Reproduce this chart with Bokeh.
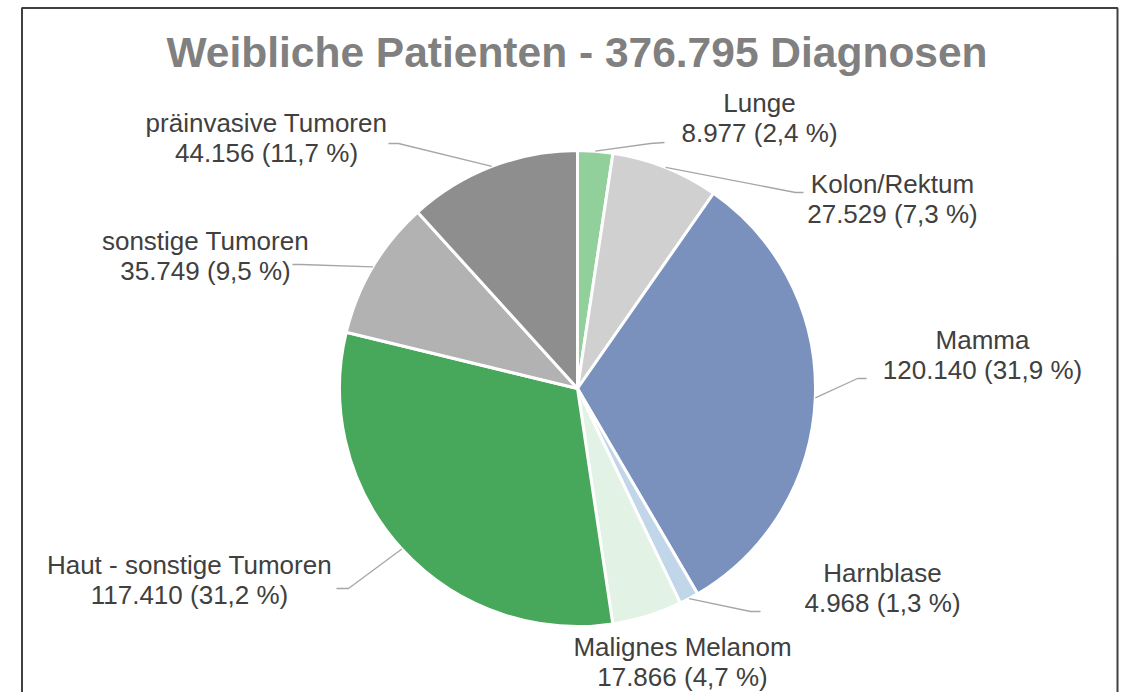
import math
from bokeh.plotting import figure
from bokeh.models import Range1d, BoxAnnotation, ColumnDataSource
from bokeh.core.properties import value
from bokeh.embed import file_html
from bokeh.resources import INLINE

# ---- data ----
categories = ["Lunge", "Kolon/Rektum", "Mamma", "Harnblase", "Malignes Melanom",
              "Haut - sonstige Tumoren", "sonstige Tumoren", "präinvasive Tumoren"]
counts = [8977, 27529, 120140, 4968, 17866, 117410, 35749, 44156]

# ---- style / layout ----
colors = ["#92D09B", "#D0D0D0", "#7991BC", "#C2D6EA", "#E2F2E5",
          "#47A75A", "#B2B2B2", "#8E8E8E"]
# label anchor: (center x, vertical middle of first line) in picture pixels
label_pos = [(759, 103), (892, 184), (982, 340), (882, 573), (682, 647),
             (189, 565), (205, 241), (266, 123)]
LINE_GAP = 30
# leader line knee and end (picture pixels); None = no leader
leader_pts = [[(650, 143), (664, 142)],
              [(795, 192), (803, 192)],
              [(857, 378), (866, 378)],
              [(750, 611), (760, 611)],
              None,
              [(348, 588), (336, 588)],
              [(300, 264), (292, 264)],
              [(398, 143), (388, 143)]]
CX, CY, R = 577, 388, 238
W, H = 1130, 692
FONT = "Liberation Sans"

def fy(y):
    return -y

total = sum(counts)

p = figure(width=W, height=H, x_range=Range1d(0, W), y_range=Range1d(-H, 0),
           output_backend="svg", toolbar_location=None, min_border=0)
p.axis.visible = False
p.grid.visible = False
p.outline_line_color = None
p.background_fill_color = "white"
p.border_fill_color = "white"

# frame
p.add_layout(BoxAnnotation(left=21.5, right=1117, top=-7.5, bottom=-(H + 20),
                           fill_alpha=0, line_color="#404040", line_alpha=1.0,
                           line_width=2))

# wedges
starts, ends, mids = [], [], []
cum = 0.0
for c in counts:
    f0 = cum / total
    cum += c
    f1 = cum / total
    starts.append(math.pi / 2 - f0 * 2 * math.pi)
    ends.append(math.pi / 2 - f1 * 2 * math.pi)
    mids.append(math.pi / 2 - (f0 + f1) / 2 * 2 * math.pi)

src = ColumnDataSource(dict(start=starts, end=ends, color=colors))
p.wedge(x=CX, y=fy(CY), radius=R, start_angle="start", end_angle="end",
        direction="clock", fill_color="color", line_color="white", line_width=3,
        source=src)

# leader lines
for m, pts in zip(mids, leader_pts):
    if pts is None:
        continue
    sx = CX + R * math.cos(m)
    sy = CY - R * math.sin(m)
    xs = [sx] + [q[0] for q in pts]
    ys = [fy(sy)] + [fy(q[1]) for q in pts]
    p.line(xs, ys, line_color="#A6A6A6", line_width=1.3)

# labels
def fmt_int(n):
    return f"{n:,}".replace(",", ".")

lx, ly, lt = [], [], []
for name, c, (x, mid) in zip(categories, counts, label_pos):
    pct = f"{c / total * 100:.1f}".replace(".", ",")
    lx += [x, x]
    ly += [fy(mid - 1), fy(mid - 1 + LINE_GAP)]
    lt += [name, f"{fmt_int(c)} ({pct} %)"]
p.text(x=lx, y=ly, text=lt, text_align="center", text_baseline="alphabetic",
       text_font=value(FONT), text_font_size=value("26px"), text_color="#404040")

# title
p.text(x=[576.5], y=[fy(52)], text=[f"Weibliche Patienten - {fmt_int(total)} Diagnosen"],
       text_align="center", text_baseline="alphabetic", text_font=value(FONT),
       text_font_size=value("42.5px"), text_font_style="bold", text_color="#808080")

open("out.html", "w").write(file_html(p, INLINE))
